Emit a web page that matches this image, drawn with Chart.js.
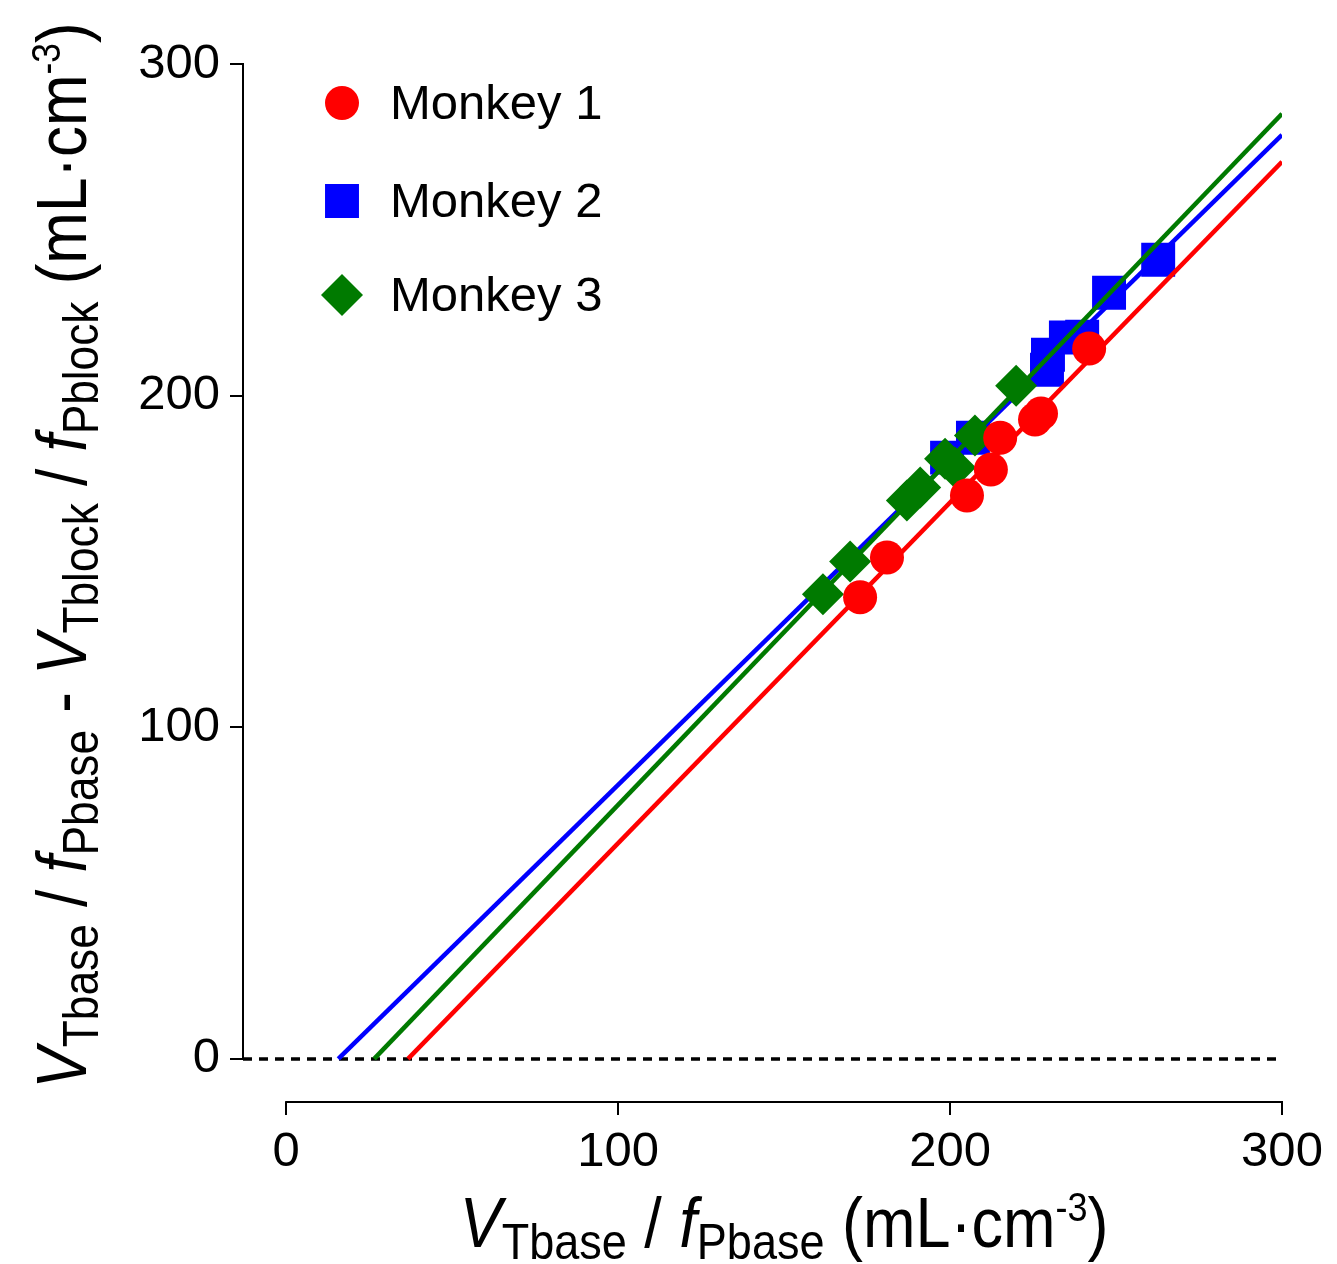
<!DOCTYPE html>
<html>
<head>
<meta charset="utf-8">
<script src="https://cdn.jsdelivr.net/npm/chart.js@4.4.1/dist/chart.umd.min.js"></script>
<style>
  html, body { margin: 0; padding: 0; background: #fff; }
  canvas { display: block; }
</style>
</head>
<body>
<canvas id="chart" width="1337" height="1264"></canvas>
<script>
// axis ranges and ticks
const xMin = -13;
const yMin = -13;
const axisMax = 300;
const tickValues = [0, 100, 200, 300];

const seriesNames = ['Monkey 1', 'Monkey 2', 'Monkey 3'];
const seriesColors = ['#ff0000', '#0000ff', '#007a00'];

// Monkey 1 (circles)
const monkey1X = [172.9, 181.0, 205.1, 212.3, 215.1, 225.6, 227.4, 241.9];
const monkey1Y = [139.2, 151.2, 169.9, 177.7, 187.3, 192.8, 194.6, 214.2];
// Monkey 2 (squares)
const monkey2X = [199.1, 206.9, 229.2, 229.5, 234.9, 239.8, 247.9, 262.7];
const monkey2Y = [181.3, 187.3, 207.8, 212.3, 217.5, 217.8, 231.0, 241.0];
// Monkey 3 (diamonds)
const monkey3X = [161.7, 169.9, 187.0, 191.0, 198.5, 201.5, 207.5, 219.9];
const monkey3Y = [140.1, 150.0, 168.4, 172.3, 181.0, 178.3, 188.0, 203.0];

// regression lines: start at the x-intercept, end at x = 300
const fitStartX = [36.7, 15.7, 26.5];
const fitEndY = [270.5, 278.6, 285.0];

const toPoints = (xs, ys) => xs.map((x, i) => ({ x: x, y: ys[i] }));
const fitLine = i => [{ x: fitStartX[i], y: 0 }, { x: axisMax, y: fitEndY[i] }];

const pointStyles = ['circle', 'rect', 'rectRot'];
const pointSizes = [17, 24, 21];

const scatterSet = (i, xs, ys, order) => ({
  label: seriesNames[i],
  data: toPoints(xs, ys),
  showLine: false,
  pointStyle: pointStyles[i],
  pointRadius: pointSizes[i],
  pointHoverRadius: pointSizes[i],
  pointBackgroundColor: seriesColors[i],
  pointBorderColor: seriesColors[i],
  pointBorderWidth: 0,
  order: order
});

const lineSet = (i, order) => ({
  label: seriesNames[i] + ' fit',
  data: fitLine(i),
  showLine: true,
  borderColor: seriesColors[i],
  borderWidth: 4.5,
  pointRadius: 0,
  fill: false,
  order: order
});

const FONT = "'Liberation Sans', Arial, sans-serif";

// draws a run of text pieces (italic / subscript / superscript) along the baseline
function drawRichText(ctx, pieces, cx, baseline, squeeze) {
  const fontOf = p => (p.italic ? 'italic ' : '') + p.size + 'px ' + FONT;
  let total = 0;
  pieces.forEach(p => {
    ctx.font = fontOf(p);
    p.w = ctx.measureText(p.t).width;
    total += p.w;
  });
  ctx.save();
  ctx.translate(cx, baseline);
  ctx.scale(squeeze, 1);
  let x = -total / 2;
  ctx.fillStyle = '#000';
  ctx.textBaseline = 'alphabetic';
  ctx.textAlign = 'left';
  pieces.forEach(p => {
    ctx.font = fontOf(p);
    ctx.fillText(p.t, x, p.dy || 0);
    x += p.w;
  });
  ctx.restore();
}

const MAIN = 70, SUB = 50, SUP = 40;
const xTitle = [
  { t: 'V', italic: true, size: MAIN },
  { t: 'Tbase', size: SUB, dy: 12 },
  { t: ' / ', size: MAIN },
  { t: 'f', italic: true, size: MAIN },
  { t: 'Pbase', size: SUB, dy: 12 },
  { t: ' (mL\u00b7cm', size: MAIN },
  { t: '-3', size: SUP, dy: -26 },
  { t: ')', size: MAIN }
];
const yTitle = [
  { t: 'V', italic: true, size: MAIN },
  { t: 'Tbase', size: SUB, dy: 12 },
  { t: ' / ', size: MAIN },
  { t: 'f', italic: true, size: MAIN },
  { t: 'Pbase', size: SUB, dy: 12 },
  { t: ' - ', size: MAIN },
  { t: 'V', italic: true, size: MAIN },
  { t: 'Tblock', size: SUB, dy: 12 },
  { t: ' / ', size: MAIN },
  { t: 'f', italic: true, size: MAIN },
  { t: 'Pblock', size: SUB, dy: 12 },
  { t: ' (mL\u00b7cm', size: MAIN },
  { t: '-3', size: SUP, dy: -26 },
  { t: ')', size: MAIN }
];

const decorations = {
  id: 'decorations',
  afterDraw(chart) {
    const { ctx, chartArea, scales } = chart;
    const xs = scales.x, ys = scales.y;

    // offset axis lines, only over 0..300
    ctx.save();
    ctx.strokeStyle = '#000';
    ctx.lineWidth = 2;
    ctx.beginPath();
    ctx.moveTo(chartArea.left, ys.getPixelForValue(0) + 1);
    ctx.lineTo(chartArea.left, ys.getPixelForValue(axisMax) - 1);
    ctx.moveTo(xs.getPixelForValue(0) - 1, chartArea.bottom);
    ctx.lineTo(xs.getPixelForValue(axisMax) + 1, chartArea.bottom);
    ctx.stroke();
    ctx.restore();

    // legend
    ctx.save();
    const legendX = chartArea.left + 99;
    const legendRows = [chartArea.top + 39, chartArea.top + 137, chartArea.top + 231];
    seriesNames.forEach((name, i) => {
      ctx.fillStyle = seriesColors[i];
      Chart.helpers.drawPoint(ctx, {
        pointStyle: pointStyles[i],
        radius: pointSizes[i],
        rotation: 0,
        borderWidth: 0
      }, legendX, legendRows[i]);
      ctx.fillStyle = '#000';
      ctx.font = '49px ' + FONT;
      ctx.textAlign = 'left';
      ctx.textBaseline = 'middle';
      ctx.fillText(name, legendX + 48, legendRows[i] + 2);
    });
    ctx.restore();

    // axis titles
    const xCenter = (xs.getPixelForValue(0) + xs.getPixelForValue(axisMax)) / 2;
    drawRichText(ctx, xTitle, xCenter, 1247, 0.9);

    const yCenter = (ys.getPixelForValue(0) + ys.getPixelForValue(axisMax)) / 2 - 6;
    ctx.save();
    ctx.translate(86, yCenter);
    ctx.rotate(-Math.PI / 2);
    drawRichText(ctx, yTitle, 0, 0, 0.885);
    ctx.restore();
  }
};

const tickFont = { family: FONT, size: 49 };

new Chart(document.getElementById('chart'), {
  type: 'scatter',
  data: {
    datasets: [
      scatterSet(0, monkey1X, monkey1Y, 1),
      lineSet(0, 2),
      scatterSet(2, monkey3X, monkey3Y, 3),
      lineSet(2, 4),
      scatterSet(1, monkey2X, monkey2Y, 5),
      lineSet(1, 6),
      {
        label: 'zero',
        data: [{ x: xMin, y: 0 }, { x: axisMax, y: 0 }],
        showLine: true,
        borderColor: '#000',
        borderWidth: 3.5,
        borderDash: [9, 7],
        pointRadius: 0,
        order: 7
      }
    ]
  },
  options: {
    responsive: false,
    devicePixelRatio: 1,
    animation: false,
    layout: { padding: { top: 64, right: 55, left: 0, bottom: 0 } },
    plugins: {
      legend: { display: false },
      tooltip: { enabled: false }
    },
    scales: {
      x: {
        type: 'linear',
        min: xMin,
        max: axisMax,
        afterBuildTicks: scale => { scale.ticks = tickValues.map(v => ({ value: v })); },
        afterFit: scale => { scale.height = 162; },
        border: { display: false },
        grid: {
          display: true,
          drawOnChartArea: false,
          drawTicks: true,
          tickLength: 13,
          color: '#000',
          lineWidth: 2
        },
        ticks: { color: '#000', font: tickFont, padding: 8, maxRotation: 0 }
      },
      y: {
        type: 'linear',
        min: yMin,
        max: axisMax,
        afterBuildTicks: scale => { scale.ticks = tickValues.map(v => ({ value: v })); },
        afterFit: scale => { scale.width = 243; },
        border: { display: false },
        grid: {
          display: true,
          drawOnChartArea: false,
          drawTicks: true,
          tickLength: 13,
          color: '#000',
          lineWidth: 2
        },
        ticks: { color: '#000', font: tickFont, padding: 10 }
      }
    }
  },
  plugins: [decorations]
});
</script>
</body>
</html>
